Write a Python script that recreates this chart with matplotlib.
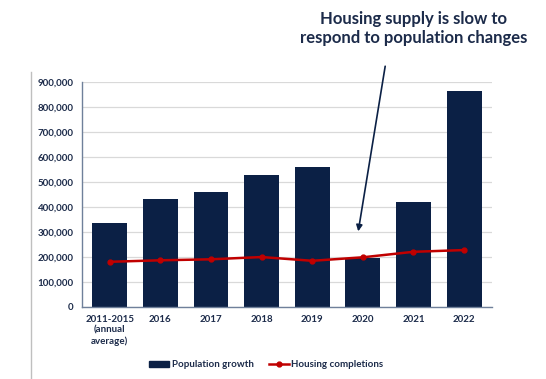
import matplotlib.pyplot as plt
from matplotlib.lines import Line2D
from matplotlib.ticker import FuncFormatter
import numpy as np

categories = ['2011-2015\n(annual\naverage)', '2016', '2017', '2018', '2019', '2020', '2021', '2022']
population_growth = [337000, 432000, 460000, 528000, 560000, 196000, 420000, 864000]
housing_completions = [181000, 187000, 191000, 200000, 185000, 199000, 221000, 228000]

navy = '#0b2045'
red = '#c00000'
text_col = '#1c2b4a'

plt.rcParams['font.family'] = ['Lato', 'DejaVu Sans']

fig = plt.figure(figsize=(5.46, 3.79), dpi=100)
ax = fig.add_axes([0.150, 0.190, 0.751, 0.593])

x = np.arange(len(categories))
ax.bar(x, population_growth, width=0.69, color=navy, zorder=2, label='Population growth')
ax.plot(x, housing_completions, color=red, lw=1.8, marker='o', ms=3.5, zorder=3,
        label='Housing completions')

ax.set_xlim(-0.55, len(categories) - 0.45)
ax.set_ylim(0, 900000)
ax.set_yticks(np.arange(0, 900001, 100000))
ax.yaxis.set_major_formatter(FuncFormatter(lambda v, p: f'{int(v):,}'))
ax.set_xticks(x)
ax.set_xticklabels(categories)
ax.grid(axis='y', color='#d9d9d9', lw=0.9, zorder=0)
ax.tick_params(length=0, labelsize=7, labelcolor=text_col, pad=6)
for lab in ax.get_xticklabels() + ax.get_yticklabels():
    lab.set_fontweight('bold')
for s in ['top', 'right']:
    ax.spines[s].set_visible(False)
for s in ['left', 'bottom']:
    ax.spines[s].set_color('#6f809a')
    ax.spines[s].set_linewidth(1.0)

# annotation
fig.text(0.757, 0.925, 'Housing supply is slow to\nrespond to population changes',
         ha='center', va='center', fontsize=12, fontweight='bold', color=text_col,
         linespacing=1.25)
ax.annotate('', xy=(4.9, 292000), xytext=(5.45, 975000), annotation_clip=False,
            arrowprops=dict(arrowstyle='-|>', color=navy, lw=1.2, mutation_scale=9))

# slide border line
fig.add_artist(Line2D([0.057, 0.057], [0, 0.81], color='#bfbfbf', lw=1.0))

handles = [plt.Rectangle((0, 0), 1, 1, color=navy),
           Line2D([], [], color=red, lw=1.8, marker='o', ms=3.5)]
leg = fig.legend(handles, ['Population growth', 'Housing completions'], loc='center',
                 bbox_to_anchor=(0.488, 0.037), ncol=2, frameon=False, fontsize=7,
                 handlelength=2.0, handleheight=0.6, columnspacing=1.6, handletextpad=0.3)
for t in leg.get_texts():
    t.set_color(text_col)
    t.set_fontweight('bold')

fig.savefig('out.png', dpi=100)
